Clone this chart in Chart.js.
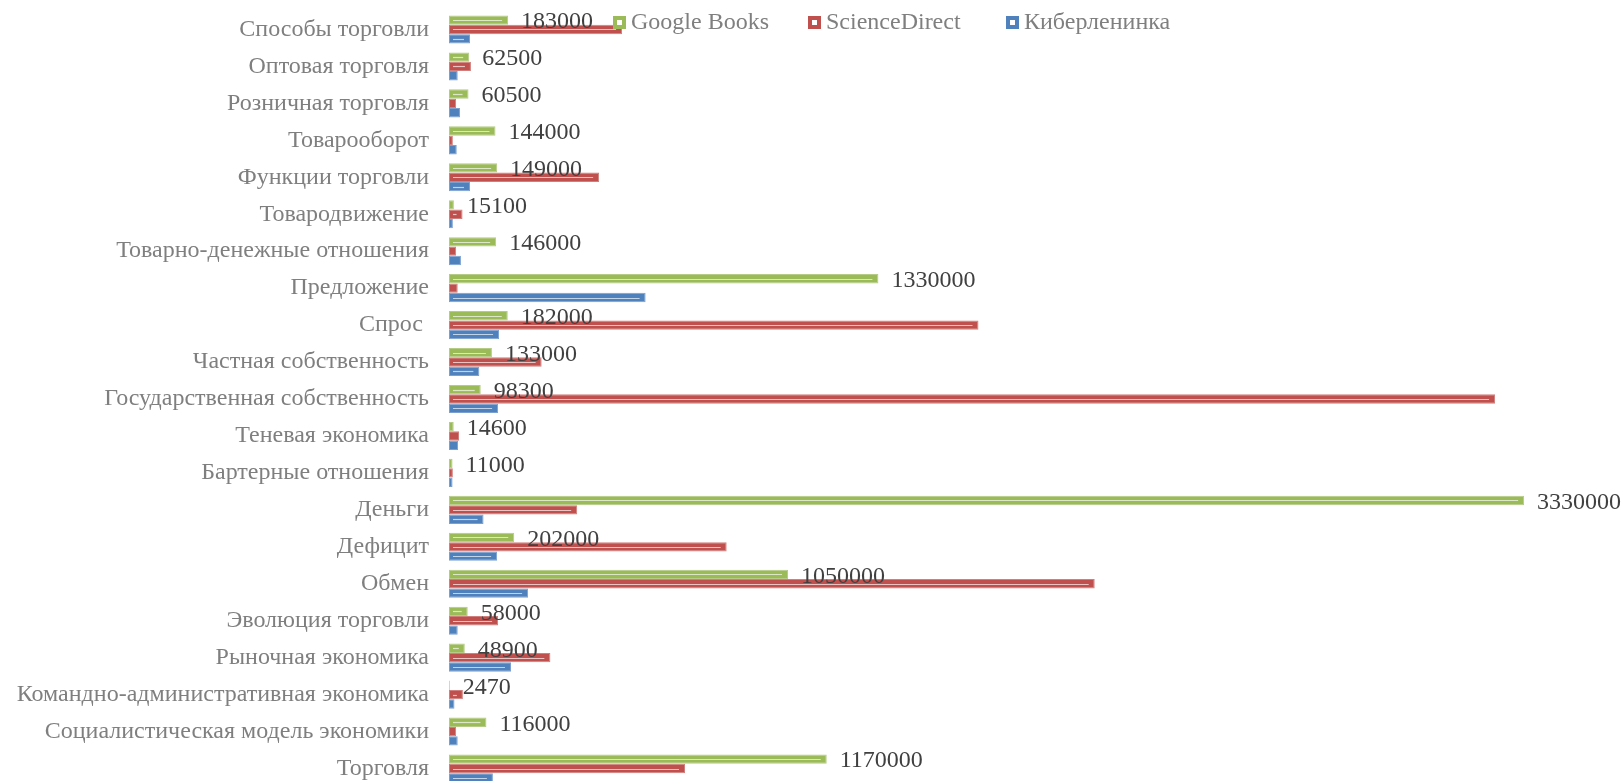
<!DOCTYPE html>
<html lang="ru">
<head>
<meta charset="utf-8">
<title>Google Books / ScienceDirect / Киберленинка</title>
<script src="https://cdn.jsdelivr.net/npm/chart.js@4/dist/chart.umd.min.js"></script>
<style>
  html, body { margin: 0; padding: 0; background: #fff; overflow: hidden; }
  #wrap { position: relative; width: 1623px; height: 790px; }
</style>
</head>
<body>
<div id="wrap"><canvas id="chart"></canvas></div>
<script>
// categories, top to bottom as they appear
const categories = [
  'Способы торговли', 'Оптовая торговля', 'Розничная торговля', 'Товарооборот',
  'Функции торговли', 'Товародвижение', 'Товарно-денежные отношения', 'Предложение',
  'Спрос ', 'Частная собственность', 'Государственная собственность', 'Теневая экономика',
  'Бартерные отношения', 'Деньги', 'Дефицит', 'Обмен', 'Эволюция торговли',
  'Рыночная экономика', 'Командно-административная экономика',
  'Социалистическая модель экономики', 'Торговля'
];

const seriesNames = ['Google Books', 'ScienceDirect', 'Киберленинка'];

const googleBooks = [
  183000, 62500, 60500, 144000, 149000, 15100, 146000, 1330000, 182000, 133000,
  98300, 14600, 11000, 3330000, 202000, 1050000, 58000, 48900, 2470, 116000, 1170000
];

// not labelled in the picture
const scienceDirect = [
  536000, 68000, 22000, 12000, 465000, 42000, 22000, 27000, 1640000, 287000,
  3240000, 31000, 12000, 397000, 860000, 2000000, 152000, 314000, 43000, 22000, 731000
];

const cyberleninka = [
  65000, 27000, 34000, 24000, 65000, 12000, 37000, 609000, 155000, 94000,
  152000, 28000, 11000, 107000, 149000, 245000, 27000, 192000, 17000, 27000, 136000
];

const xMax = 3500000;

const FONT = "'Liberation Serif', 'Times New Roman', serif";
const colors = ['#9BBB59', '#C0504D', '#4F81BD'];
const edgeColors = ['#b4cc85', '#d07f7c', '#7ba0d0'];

// light stripe along each bar, like the Excel original
const barStripe = {
  id: 'barStripe',
  afterDatasetsDraw(chart) {
    const ctx = chart.ctx;
    ctx.save();
    ctx.strokeStyle = 'rgba(255,255,255,0.65)';
    ctx.lineWidth = 1.2;
    chart.data.datasets.forEach((ds, i) => {
      chart.getDatasetMeta(i).data.forEach(bar => {
        const start = bar.base + 4;
        const end = bar.x - 6;
        if (end - start < 2) return;
        ctx.beginPath();
        ctx.moveTo(start, Math.round(bar.y) + 0.5);
        ctx.lineTo(end, Math.round(bar.y) + 0.5);
        ctx.stroke();
      });
    });
    ctx.restore();
  }
};

// value labels for Google Books only
const valueLabels = {
  id: 'valueLabels',
  afterDatasetsDraw(chart) {
    const ctx = chart.ctx;
    const meta = chart.getDatasetMeta(0);
    ctx.save();
    ctx.font = '24px ' + FONT;
    ctx.fillStyle = '#404040';
    ctx.textAlign = 'left';
    ctx.textBaseline = 'middle';
    meta.data.forEach((bar, j) => {
      ctx.fillText(String(googleBooks[j]), bar.x + 13, bar.y + 2);
    });
    ctx.restore();
  }
};

// legend drawn over the plot, as in the original
const overlayLegend = {
  id: 'overlayLegend',
  afterDraw(chart) {
    const ctx = chart.ctx;
    const items = [613, 808, 1006];
    ctx.save();
    ctx.font = '24px ' + FONT;
    ctx.textBaseline = 'middle';
    ctx.textAlign = 'left';
    chart.data.datasets.forEach((ds, i) => {
      const x = items[i];
      const y = 16;
      ctx.fillStyle = ds.backgroundColor;
      ctx.fillRect(x, y, 13, 13);
      ctx.fillStyle = '#fff';
      ctx.fillRect(x + 4, y + 4, 5, 5);
      ctx.fillStyle = '#7f7f7f';
      ctx.fillText(ds.label, x + 18, 23);
    });
    ctx.restore();
  }
};

const ctx = document.getElementById('chart').getContext('2d');
new Chart(ctx, {
  type: 'bar',
  data: {
    labels: categories,
    datasets: [
      { label: seriesNames[0], data: googleBooks, backgroundColor: colors[0], borderColor: edgeColors[0] },
      { label: seriesNames[1], data: scienceDirect, backgroundColor: colors[1], borderColor: edgeColors[1] },
      { label: seriesNames[2], data: cyberleninka, backgroundColor: colors[2], borderColor: edgeColors[2] }
    ]
  },
  options: {
    indexAxis: 'y',
    responsive: true,
    maintainAspectRatio: false,
    devicePixelRatio: 1,
    animation: false,
    datasets: {
      bar: {
        borderWidth: 1,
        borderSkipped: false,
        categoryPercentage: 0.76,
        barPercentage: 1.0
      }
    },
    layout: {
      padding: { top: 11, right: 44, bottom: 3, left: 0 }
    },
    plugins: {
      legend: { display: false },
      tooltip: { enabled: false }
    },
    scales: {
      x: {
        display: false,
        min: 0,
        max: xMax
      },
      y: {
        grid: { display: false, drawTicks: false },
        border: { display: false },
        ticks: {
          color: '#7f7f7f',
          font: { family: FONT, size: 24 },
          padding: 20,
          autoSkip: false
        },
        afterFit(scale) {
          // fixed label column; plot runs from the top to below the window edge
          scale.width = 449;
          scale.paddingTop = 0;
          scale.paddingBottom = 0;
        }
      }
    }
  },
  plugins: [barStripe, valueLabels, overlayLegend]
});
</script>
</body>
</html>
